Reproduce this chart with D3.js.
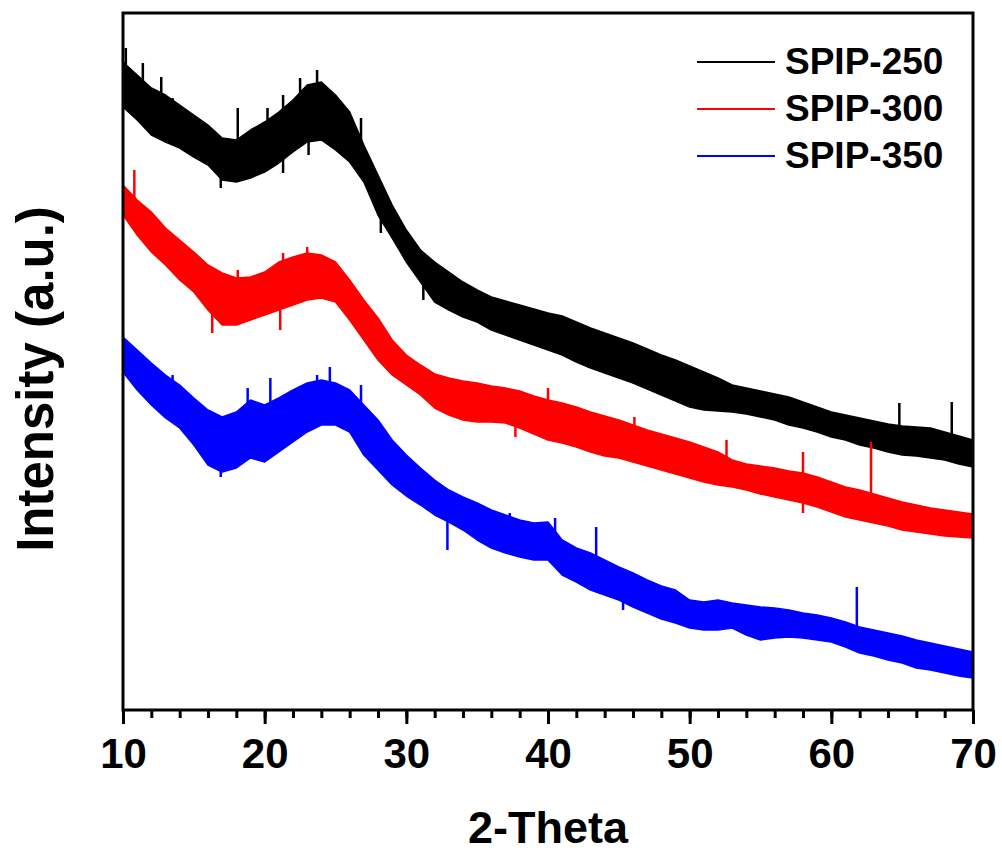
<!DOCTYPE html>
<html><head><meta charset="utf-8">
<script src="https://cdn.jsdelivr.net/npm/d3@7"></script>
<style>
html,body{margin:0;padding:0;background:#fff;}
svg{display:block;font-family:"Liberation Sans",Arial,sans-serif;font-weight:bold;}
</style></head><body>
<svg id="chart" width="1002" height="855"></svg>
<script>
// 2-Theta sample positions (degrees)
const theta = d3.range(10, 71, 1);
// Series names and colours
const seriesNames = ["SPIP-250", "SPIP-300", "SPIP-350"];
const seriesColors = ["#000000", "#ff0000", "#0000ff"];
// Upper / lower envelope of the noisy traces (intensity, a.u.)
const spip250Hi = [648,635,622,615,605,595,585,572,570,580,588,598,610,625,628,615,598,565,535,505,480,460,448,438,428,420,413,409,405,401,397,394,388,382,377,372,367,361,355,350,344,338,332,325,322,319,316,313,308,303,298,295,292,289,286,284,283,282,278,274,270];
const spip250Lo = [603,590,575,568,562,553,545,530,528,532,538,547,558,568,570,560,548,528,495,472,448,428,408,400,393,388,380,375,370,365,360,355,348,342,337,332,327,321,315,309,303,300,299,298,296,293,290,285,282,278,273,270,265,262,258,255,254,252,250,246,243];
const spip300Hi = [525,510,498,482,470,458,445,437,432,433,438,448,453,457,455,448,430,410,392,370,355,345,336,332,329,327,324,322,319,314,310,307,303,298,294,290,285,280,276,272,268,263,258,250,246,244,242,239,237,233,228,223,220,216,212,208,205,202,200,198,196];
const spip300Lo = [495,475,458,445,430,418,400,385,385,390,395,400,405,410,412,408,390,370,350,335,325,315,302,295,290,288,288,287,282,276,270,267,263,258,254,252,248,244,240,236,232,228,225,223,220,216,213,210,207,203,198,193,190,187,184,180,178,176,174,173,172];
const spip350Hi = [373,360,347,335,325,312,300,293,298,310,305,312,320,327,330,327,320,305,290,270,255,242,230,220,213,207,200,195,190,187,188,170,162,157,150,143,137,130,124,120,110,108,110,107,105,103,102,100,97,95,92,88,83,80,77,74,70,67,64,61,58];
const spip350Lo = [338,320,305,292,282,265,245,238,242,252,248,258,268,278,285,285,278,255,240,225,214,205,195,188,180,170,162,157,153,150,150,135,128,120,115,110,103,97,91,87,82,80,80,82,75,70,72,73,72,70,68,63,57,54,50,47,42,40,37,34,32];
// Narrow spikes: [2-theta, base intensity, tip intensity]
const spip250Spikes = [[10.2,625,662],[11.4,610,647],[12.7,600,633],[13.5,595,612],[18.1,550,602],[20.2,570,602],[21.3,580,615],[22.5,600,632],[23.7,610,640],[26.8,560,592],[64.8,272,307],[68.5,265,308],[16.9,545,522],[21.3,560,537],[23.1,580,555],[28.2,500,477],[31.2,440,410]];
const spip300Spikes = [[10.8,505,540],[15.0,440,458],[18.1,410,440],[21.3,430,457],[23.0,440,463],[40.0,295,322],[46.1,270,293],[52.6,242,270],[58.0,222,258],[62.8,203,268],[16.3,400,377],[21.1,400,380],[37.7,290,273],[58.0,222,197]];
const spip350Spikes = [[10.0,355,375],[13.5,320,335],[18.8,282,322],[20.4,290,332],[23.7,310,335],[24.6,310,343],[26.8,300,325],[37.3,180,197],[40.5,170,192],[43.4,138,183],[61.8,75,123],[16.9,250,233],[32.9,200,160],[45.3,120,100]];
// Axis ticks
const majorTicks = [10,20,30,40,50,60,70];
const minorTicks = d3.range(10, 71, 2);

const svg = d3.select("#chart");
const L = 123, R = 973, T = 13, B = 710;
const x = d3.scaleLinear().domain([10, 70]).range([L, R]);
const y = d3.scaleLinear().domain([0, 697]).range([B, T]);

const series = [
  {hi: spip250Hi, lo: spip250Lo, spikes: spip250Spikes},
  {hi: spip300Hi, lo: spip300Lo, spikes: spip300Spikes},
  {hi: spip350Hi, lo: spip350Lo, spikes: spip350Spikes}
];

svg.append("clipPath").attr("id","clip").append("rect")
  .attr("x", L).attr("y", T).attr("width", R-L).attr("height", B-T);
const plot = svg.append("g").attr("clip-path","url(#clip)");

series.forEach((s, i) => {
  const pts = theta.map((t, k) => ({t, hi: s.hi[k], lo: s.lo[k]}));
  const area = d3.area().x(d => x(d.t)).y0(d => y(d.lo)).y1(d => y(d.hi));
  plot.append("path").datum(pts).attr("d", area)
    .attr("fill", seriesColors[i]).attr("stroke", seriesColors[i])
    .attr("stroke-width", 1.5).attr("stroke-linejoin","round");
  plot.selectAll(null).data(s.spikes).enter().append("line")
    .attr("x1", d => x(d[0])).attr("x2", d => x(d[0]))
    .attr("y1", d => y(d[1])).attr("y2", d => y(d[2]))
    .attr("stroke", seriesColors[i]).attr("stroke-width", 2.5);
});

// Frame
svg.append("rect").attr("x", L).attr("y", T).attr("width", R-L).attr("height", B-T)
  .attr("fill","none").attr("stroke","#000").attr("stroke-width",3);

// X axis
const minorAxis = d3.axisBottom(x).tickValues(minorTicks).tickSize(8).tickFormat("");
const gMinor = svg.append("g").attr("transform", `translate(0,${B})`).call(minorAxis);
gMinor.select(".domain").remove();
gMinor.selectAll("line").attr("stroke","#000").attr("stroke-width",3);

const majorAxis = d3.axisBottom(x).tickValues(majorTicks).tickSize(14).tickPadding(14).tickFormat(d3.format("d"));
const gMajor = svg.append("g").attr("transform", `translate(0,${B})`).call(majorAxis);
gMajor.select(".domain").remove();
gMajor.selectAll("line").attr("stroke","#000").attr("stroke-width",3);
gMajor.selectAll("text").attr("font-size", 42).attr("font-weight","bold")
  .attr("font-family", '"Liberation Sans",Arial,sans-serif').attr("fill","#000")
  .attr("dy", null).attr("y", 58);

// Axis titles
svg.append("text").attr("x", (L+R)/2).attr("y", 843).attr("text-anchor","middle")
  .attr("font-size", 45).attr("font-weight","bold").text("2-Theta");
svg.append("text").attr("transform", "translate(53,379) rotate(-90)")
  .attr("text-anchor","middle").attr("font-size", 51).attr("font-weight","bold")
  .text("Intensity (a.u.)");

// Legend
const leg = svg.append("g");
seriesNames.forEach((name, i) => {
  const ly = 62 + i * 47;
  leg.append("line").attr("x1", 697).attr("x2", 775).attr("y1", ly).attr("y2", ly)
    .attr("stroke", seriesColors[i]).attr("stroke-width", 2);
  leg.append("text").attr("x", 785).attr("y", ly + 12).attr("font-size", 37)
    .attr("font-weight","bold").text(name);
});
</script>
</body></html>
